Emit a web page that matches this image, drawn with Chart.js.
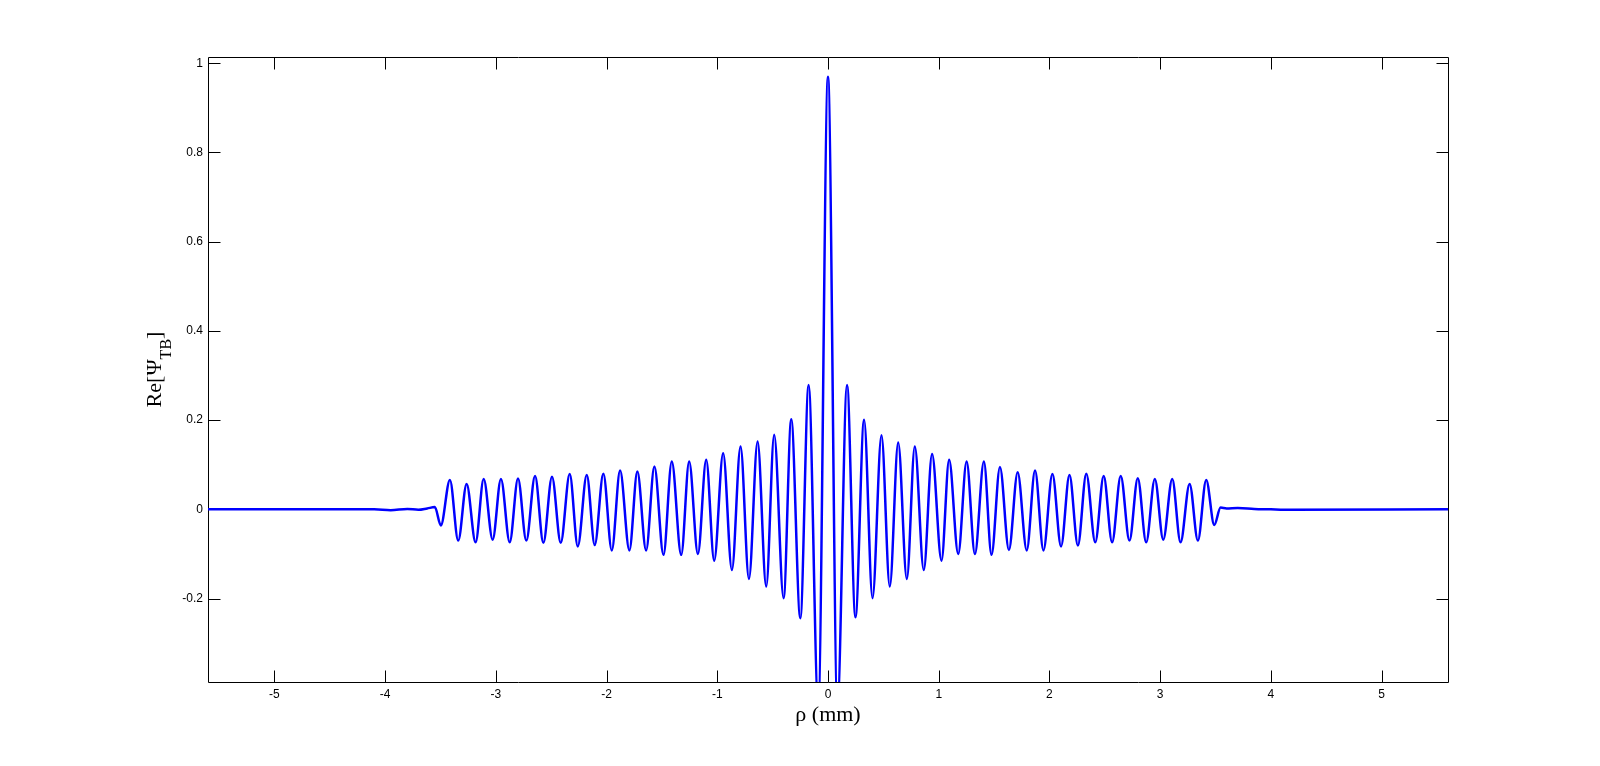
<!DOCTYPE html>
<html>
<head>
<meta charset="utf-8">
<script src="https://cdn.jsdelivr.net/npm/chart.js@4/dist/chart.umd.min.js"></script>
<style>
html,body{margin:0;padding:0;background:#fff;}
#wrap{width:1600px;height:766px;position:relative;}
</style>
</head>
<body>
<div id="wrap"><canvas id="c" width="1600" height="766"></canvas></div>
<script>
// ---- data ----
const rho = [
  -5.6, -4.1, -3.95, -3.8, -3.7, -3.62, -3.551, -3.497, -3.415, -3.340,
  -3.264, -3.183, -3.110, -3.029, -2.954, -2.875, -2.800, -2.725, -2.646, -2.571,
  -2.493, -2.414, -2.333, -2.260, -2.179, -2.107, -2.029, -1.953, -1.878, -1.794,
  -1.722, -1.643, -1.568, -1.486, -1.411, -1.326, -1.254, -1.175, -1.100, -1.028,
  -0.947, -0.868, -0.790, -0.714, -0.636, -0.558, -0.486, -0.401, -0.332, -0.250,
  -0.175, -0.088, 0,
  0.085, 0.172, 0.248, 0.326, 0.402, 0.483, 0.558, 0.634, 0.712, 0.784,
  0.865, 0.940, 1.025, 1.094, 1.176, 1.252, 1.327, 1.408, 1.477, 1.553,
  1.634, 1.713, 1.795, 1.870, 1.946, 2.027, 2.105, 2.181, 2.257, 2.333,
  2.414, 2.490, 2.566, 2.644, 2.723, 2.798, 2.874, 2.952, 3.028, 3.109,
  3.184, 3.266, 3.341, 3.416, 3.489, 3.546, 3.60, 3.70, 3.85, 4.00,
  4.12, 5.6
];
const rePsi = [
  0, 0, -0.002, 0.001, -0.001, 0.002, 0.005, -0.036, 0.066, -0.070,
  0.057, -0.074, 0.068, -0.068, 0.068, -0.074, 0.069, -0.070, 0.075, -0.075,
  0.073, -0.075, 0.079, -0.083, 0.077, -0.080, 0.080, -0.092, 0.087, -0.092,
  0.085, -0.092, 0.096, -0.102, 0.107, -0.102, 0.107, -0.100, 0.111, -0.115,
  0.126, -0.136, 0.141, -0.156, 0.152, -0.173, 0.167, -0.199, 0.202, -0.244,
  0.279, -0.44, 0.97,
  -0.44, 0.279, -0.242, 0.201, -0.199, 0.166, -0.173, 0.150, -0.156, 0.141,
  -0.136, 0.124, -0.115, 0.111, -0.100, 0.107, -0.100, 0.107, -0.102, 0.095,
  -0.091, 0.083, -0.092, 0.087, -0.092, 0.079, -0.083, 0.077, -0.081, 0.080,
  -0.074, 0.075, -0.074, 0.075, -0.070, 0.070, -0.074, 0.068, -0.068, 0.068,
  -0.074, 0.057, -0.070, 0.066, -0.035, 0.004, 0.002, 0.003, 0.001, 0.000,
  -0.001, 0
];
const xTicks = [-5, -4, -3, -2, -1, 0, 1, 2, 3, 4, 5];
const yTicks = [-0.2, 0, 0.2, 0.4, 0.6, 0.8, 1];
const xRange = [-5.6, 5.6];
const yRange = [-0.387, 1.014];
const xLabel = 'ρ (mm)';
const yLabelMain = 'Re[Ψ';
const yLabelSub = 'TB';
const yLabelEnd = ']';

// ---- chart ----
const boxPlugin = {
  id: 'matlabBox',
  beforeDatasetsDraw(chart) {
    const ctx = chart.ctx, a = chart.chartArea;
    const xs = chart.scales.x, ys = chart.scales.y;
    ctx.save();
    ctx.strokeStyle = '#000';
    ctx.lineWidth = 1;
    ctx.beginPath();
    const L = a.left + 0.5, R = a.right + 0.5, T = a.top + 0.5, B = a.bottom + 0.5;
    ctx.moveTo(L, T); ctx.lineTo(R, T); ctx.lineTo(R, B); ctx.lineTo(L, B); ctx.closePath();
    const tl = 12;
    xTicks.forEach(v => {
      const p = Math.round(xs.getPixelForValue(v)) + 0.5;
      ctx.moveTo(p, B); ctx.lineTo(p, B - tl);
      ctx.moveTo(p, T); ctx.lineTo(p, T + tl);
    });
    yTicks.forEach(v => {
      const p = Math.round(ys.getPixelForValue(v)) + 0.5;
      ctx.moveTo(L, p); ctx.lineTo(L + tl, p);
      ctx.moveTo(R, p); ctx.lineTo(R - tl, p);
    });
    ctx.stroke();
    ctx.restore();
  },
  afterDraw(chart) {
    const ctx = chart.ctx, a = chart.chartArea;
    ctx.save();
    ctx.fillStyle = '#000';
    // x label
    ctx.font = '22px "Liberation Serif", "Times New Roman", serif';
    ctx.textAlign = 'center';
    ctx.textBaseline = 'alphabetic';
    ctx.fillText(xLabel, (a.left + a.right) / 2, 721);
    // y label (rotated, with subscript)
    const mainFont = '22px "Liberation Serif", "Times New Roman", serif';
    const subFont = '16px "Liberation Serif", "Times New Roman", serif';
    ctx.font = mainFont; const w1 = ctx.measureText(yLabelMain).width; const w3 = ctx.measureText(yLabelEnd).width;
    ctx.font = subFont; const w2 = ctx.measureText(yLabelSub).width;
    const total = w1 + w2 + w3;
    ctx.translate(161, (a.top + a.bottom) / 2);
    ctx.rotate(-Math.PI / 2);
    ctx.textAlign = 'left';
    let s = -total / 2;
    ctx.font = mainFont; ctx.fillText(yLabelMain, s, 0);
    ctx.font = subFont; ctx.fillText(yLabelSub, s + w1, 10);
    ctx.font = mainFont; ctx.fillText(yLabelEnd, s + w1 + w2, 0);
    ctx.restore();
  }
};

new Chart(document.getElementById('c'), {
  type: 'line',
  data: {
    datasets: [{
      data: rho.map((x, i) => ({ x: x, y: rePsi[i] })),
      borderColor: '#0000ff',
      borderWidth: 2.5,
      pointRadius: 0,
      fill: false,
      cubicInterpolationMode: 'monotone',
      clip: 0
    }]
  },
  options: {
    responsive: false,
    animation: false,
    events: [],
    layout: { padding: { top: 57, right: 152, left: 0, bottom: 0 } },
    plugins: { legend: { display: false }, tooltip: { enabled: false } },
    scales: {
      x: {
        type: 'linear', min: xRange[0], max: xRange[1],
        afterBuildTicks: s => { s.ticks = xTicks.map(v => ({ value: v })); },
        afterFit: s => { s.height = 84; },
        grid: { display: false, drawTicks: false },
        border: { display: false },
        ticks: {
          color: '#000', padding: 5, maxRotation: 0, autoSkip: false,
          font: { family: '"Liberation Sans", Arial, sans-serif', size: 12 },
          callback: v => String(v)
        }
      },
      y: {
        type: 'linear', min: yRange[0], max: yRange[1],
        afterBuildTicks: s => { s.ticks = yTicks.map(v => ({ value: v })); },
        afterFit: s => { s.width = 208; },
        grid: { display: false, drawTicks: false },
        border: { display: false },
        ticks: {
          color: '#000', padding: 5, autoSkip: false,
          font: { family: '"Liberation Sans", Arial, sans-serif', size: 12 },
          callback: v => String(Math.round(v * 10) / 10)
        }
      }
    }
  },
  plugins: [boxPlugin]
});
</script>
</body>
</html>
